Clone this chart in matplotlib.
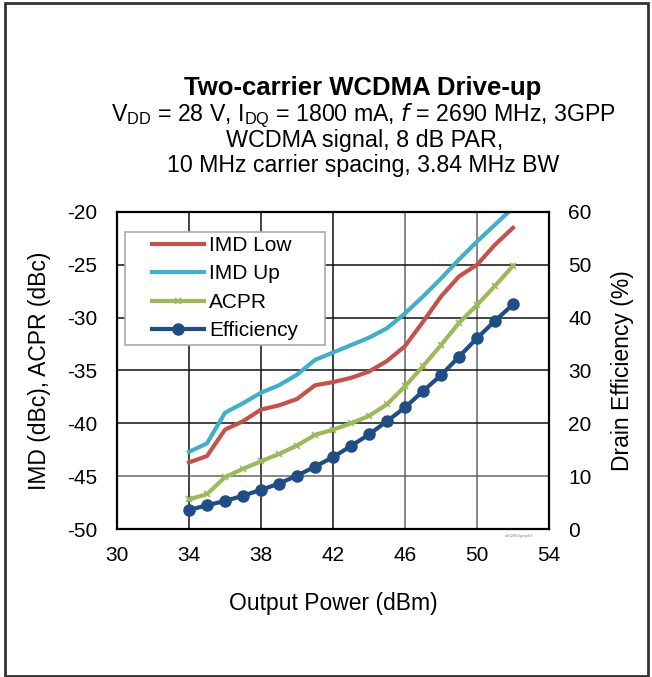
import numpy as np
import matplotlib.pyplot as plt
from matplotlib.patches import Rectangle

plt.rcParams['font.family'] = ['Liberation Sans', 'DejaVu Sans']
plt.rcParams['axes.unicode_minus'] = False

# output power (dBm)
pout = [34, 35, 36, 37, 38, 39, 40, 41, 42, 43, 44, 45, 46, 47, 48, 49, 50, 51, 52]
imd_low = [-43.7, -43.1, -40.6, -39.8, -38.7, -38.3, -37.7, -36.4, -36.1, -35.7,
           -35.1, -34.1, -32.7, -30.4, -28.0, -26.1, -25.0, -23.1, -21.5]
imd_up = [-42.7, -41.9, -39.0, -38.1, -37.1, -36.4, -35.4, -34.0, -33.3, -32.6,
          -31.9, -31.0, -29.6, -28.0, -26.3, -24.5, -22.8, -21.2, -19.6]
acpr = [-47.2, -46.7, -45.1, -44.3, -43.6, -42.9, -42.1, -41.1, -40.6, -40.0,
        -39.3, -38.2, -36.5, -34.6, -32.6, -30.5, -28.8, -27.0, -25.1]
eff = [3.6, 4.5, 5.3, 6.3, 7.4, 8.6, 10.1, 11.8, 13.6, 15.7,
       17.9, 20.4, 23.0, 26.1, 29.1, 32.6, 36.1, 39.4, 42.5]

xticks = [30, 34, 38, 42, 46, 50, 54]
yticks = [-50, -45, -40, -35, -30, -25, -20]
y2ticks = [0, 10, 20, 30, 40, 50, 60]

c_low = '#c8504b'
c_up = '#3fb0cc'
c_acpr = '#9bbb59'
c_eff = '#1f4e86'

fig = plt.figure(figsize=(6.52, 6.77), dpi=100)
fig.patches.append(Rectangle((0.007, 0.002), 0.987, 0.994, transform=fig.transFigure,
                             fill=False, edgecolor='#333333', linewidth=2))

ax = fig.add_axes([0.1794, 0.2186, 0.6626, 0.4683])
ax.set_xlim(30, 54)
ax.set_ylim(-50, -20)
ax.set_xticks(xticks)
ax.set_yticks(yticks)
ax.grid(True, color='#111111', linewidth=1.1)
ax.set_axisbelow(True)
ax.tick_params(length=0, labelsize=15)
ax.tick_params(axis='x', pad=12)
ax.tick_params(axis='y', pad=14)
for s in ax.spines.values():
    s.set_linewidth(1.6)
    s.set_color('black')
# a few grid lines are lighter in the original
ax.get_xgridlines()[4].set_color('#666666')
ax.get_xgridlines()[5].set_color('#666666')
ax.get_ygridlines()[1].set_color('#666666')

ax2 = ax.twinx()
ax2.set_ylim(0, 60)
ax2.set_yticks(y2ticks)
ax2.tick_params(length=0, labelsize=15, pad=14)
for s in ax2.spines.values():
    s.set_visible(False)

l1, = ax.plot(pout, imd_low, color=c_low, lw=3, label='IMD Low')
l2, = ax.plot(pout, imd_up, color=c_up, lw=3, label='IMD Up')
l3, = ax.plot(pout, acpr, color=c_acpr, lw=3, marker='x', ms=5, mew=1.2, label='ACPR')
l4, = ax2.plot(pout, eff, color=c_eff, lw=3, marker='o', ms=8, label='Efficiency')

ax2.set_zorder(ax.get_zorder() + 1)
ax2.patch.set_visible(False)

# legend box is wider than the entries, so draw the frame separately
box = Rectangle((0.0185, 0.58), 0.463, 0.357, transform=ax2.transAxes,
                facecolor='white', edgecolor='#aaaaaa', linewidth=1.2, zorder=4)
ax2.add_patch(box)
leg = ax2.legend(handles=[l1, l2, l3, l4], loc='upper left', bbox_to_anchor=(0.081, 0.924),
                 fontsize=15, frameon=False, borderpad=0, borderaxespad=0,
                 handlelength=2.5, labelspacing=0.45, handletextpad=0.25)
leg.set_zorder(5)

ax.set_xlabel('Output Power (dBm)', fontsize=16.5, labelpad=20)
ax.set_ylabel('IMD (dBc), ACPR (dBc)', fontsize=16.5, labelpad=12)
ax2.set_ylabel('Drain Efficiency (%)', fontsize=16.5, labelpad=14)

fig.text(0.556, 0.87, 'Two-carrier WCDMA Drive-up', ha='center', va='center',
         fontsize=18.5, fontweight='bold')
fig.text(0.557, 0.829, r'V$_{\mathregular{DD}}$ = 28 V, I$_{\mathregular{DQ}}$ = 1800 mA, $\it{f}$ = 2690 MHz, 3GPP',
         ha='center', va='center', fontsize=16.7)
fig.text(0.559, 0.792, 'WCDMA signal, 8 dB PAR,', ha='center', va='center', fontsize=16.8)
fig.text(0.557, 0.755, '10 MHz carrier spacing, 3.84 MHz BW', ha='center', va='center', fontsize=16.7)
fig.text(0.818, 0.208, 'a262802graph3', ha='right', va='center', fontsize=3, color='#888888')

fig.savefig('out.png', dpi=100)
